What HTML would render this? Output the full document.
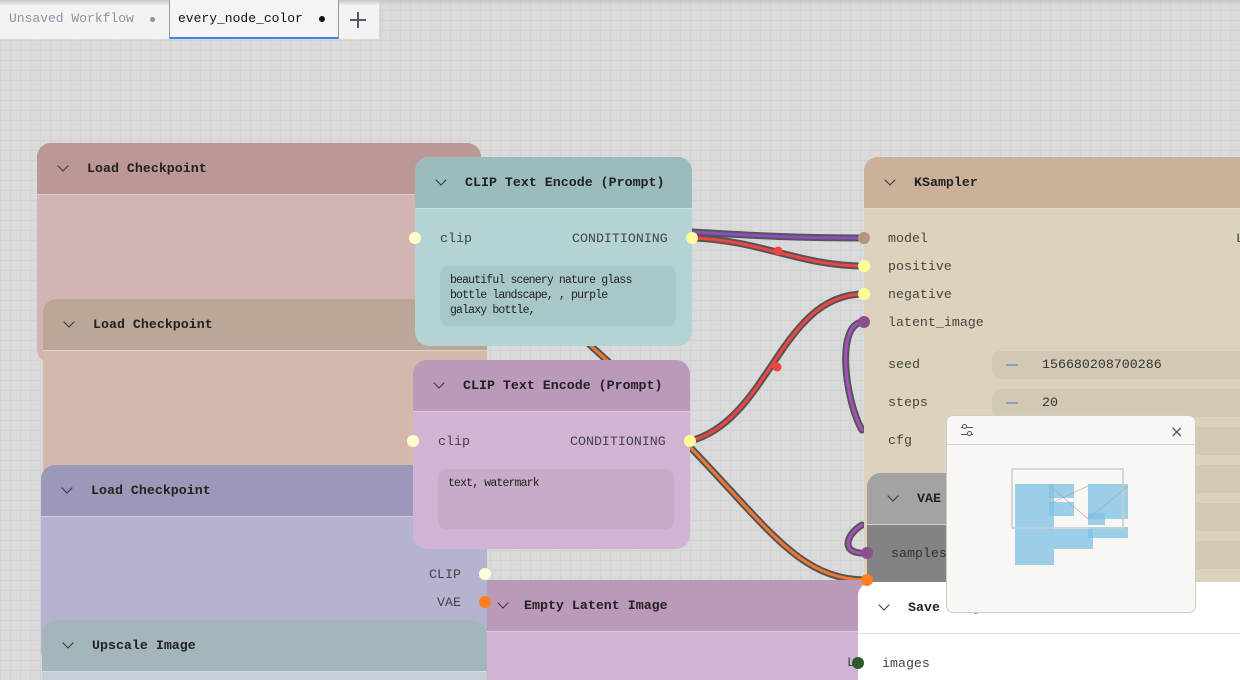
<!DOCTYPE html>
<html style="width:1240px;height:680px;overflow:hidden"><head><meta charset="utf-8"><style>
*{box-sizing:border-box;margin:0;padding:0}
body{width:1240px;height:680px;overflow:hidden;position:relative;font-family:"Liberation Mono","DejaVu Sans Mono",monospace;background:#dadada;
background-image:linear-gradient(#d2d2d2 1px,transparent 1px),linear-gradient(90deg,#d2d2d2 1px,transparent 1px);background-size:10px 10px;}
.n{position:absolute;border-radius:14px;overflow:hidden}
.h{position:absolute;left:0;right:0;top:0;height:52px;border-bottom:1px solid rgba(255,255,255,.5)}
.h .t{position:absolute;left:50px;top:18px;font-size:13.3px;font-weight:bold;color:#222}
.h .c{position:absolute;left:22px;top:19px;width:8px;height:8px;border-right:1.6px solid #333;border-bottom:1.6px solid #333;transform:rotate(45deg)}
.l{position:absolute;font-size:13.3px;color:#444}
.d{position:absolute;width:12px;height:12px;border-radius:50%;margin:-6px 0 0 -6px;z-index:50}
.ta{position:absolute;border-radius:8px;font-size:11.5px;letter-spacing:-0.85px;white-space:nowrap;color:#222;padding:7px 10px;line-height:15px}
.w{position:absolute;left:128px;right:-10px;height:28px;border-radius:8px;background:#d3c8b3}
.w .m{position:absolute;left:14px;top:13px;width:12px;height:1.5px;background:#8aa0c0}
.w span{position:absolute;left:50px;top:6px;font-size:13.3px;color:#333}
</style></head><body>
<!-- tabs -->
<div style="position:absolute;left:0;top:0;width:379px;height:39px;background:#f3f3f3"></div>
<div style="position:absolute;left:0;top:0;width:1240px;height:6px;background:linear-gradient(#c8c8c8,rgba(0,0,0,0))"></div>
<div style="position:absolute;left:9px;top:11px;font-size:13px;color:#8a94a3">Unsaved Workflow</div>
<div style="position:absolute;left:150px;top:17px;width:5px;height:5px;border-radius:50%;background:#8a94a3"></div>
<div style="position:absolute;left:169px;top:0;width:170px;height:39px;border:1px solid #999;border-top:none;border-bottom:2px solid #3b82f6;background:#f4f4f4"></div>
<div style="position:absolute;left:178px;top:11px;font-size:13px;color:#111">every_node_color</div>
<div style="position:absolute;left:319px;top:16px;width:6px;height:6px;border-radius:50%;background:#111"></div>
<div style="position:absolute;left:350px;top:19px;width:16px;height:1.5px;background:#556"></div>
<div style="position:absolute;left:357px;top:12px;width:1.5px;height:16px;background:#556"></div>

<!-- links -->
<svg width="1240" height="680" style="position:absolute;left:0;top:0">
<g fill="none" stroke-linecap="round">
<path d="M590 345 L612 365" stroke="#555" stroke-width="7"/><path d="M590 345 L612 365" stroke="#f07830" stroke-width="3"/>
<path d="M692 232 C760 236 800 238 864 238" stroke="#555" stroke-width="7"/><path d="M692 232 C760 236 800 238 864 238" stroke="#8a4fbf" stroke-width="3"/>
<path d="M692 238 C760 240 800 266 864 266" stroke="#555" stroke-width="7"/><path d="M692 238 C760 240 800 266 864 266" stroke="#ee4444" stroke-width="3"/>
<path d="M690 441 C770 420 780 294 864 294" stroke="#555" stroke-width="7"/><path d="M690 441 C770 420 780 294 864 294" stroke="#ee4444" stroke-width="3"/>
<path d="M690 447 C770 530 800 580 867 580" stroke="#555" stroke-width="7"/><path d="M690 447 C770 530 800 580 867 580" stroke="#f07830" stroke-width="3"/>
<path d="M864 322 C835 322 845 400 862 430" stroke="#555" stroke-width="7"/><path d="M864 322 C835 322 845 400 862 430" stroke="#a64fbf" stroke-width="3"/>
<path d="M867 553 C840 555 845 535 862 525" stroke="#555" stroke-width="7"/><path d="M867 553 C840 555 845 535 862 525" stroke="#a64fbf" stroke-width="3"/>
</g>
<circle cx="778" cy="251" r="4.5" fill="#ee4444"/><circle cx="777" cy="367" r="4.5" fill="#ee4444"/>
</svg>

<!-- Load Checkpoint 1 -->
<div class="n" style="left:37px;top:143px;width:444px;height:220px;background:#d2b4b4"><div class="h" style="background:#bb9795"><div class="c"></div><div class="t">Load Checkpoint</div></div></div>
<!-- Load Checkpoint 2 -->
<div class="n" style="left:43px;top:299px;width:444px;height:200px;background:#d5b8ad"><div class="h" style="background:#baa797"><div class="c"></div><div class="t">Load Checkpoint</div></div></div>
<!-- Load Checkpoint 3 -->
<div class="n" style="left:41px;top:465px;width:446px;height:200px;background:#b4b4d0"><div class="h" style="background:#9a99b9"><div class="c"></div><div class="t">Load Checkpoint</div></div>
<div class="l" style="left:388px;top:102px">CLIP</div><div class="l" style="left:396px;top:130px">VAE</div></div>
<div class="d" style="left:485px;top:574px;background:#ffffdd"></div>
<div class="d" style="left:485px;top:602px;background:#ff7f1e"></div>
<!-- Upscale -->
<div class="n" style="left:42px;top:620px;width:445px;height:60px;background:#c4d0d5;border-radius:14px 14px 0 0"><div class="h" style="background:#a4b6bb"><div class="c"></div><div class="t">Upscale Image</div></div></div>
<!-- Empty Latent -->
<div class="n" style="left:487px;top:580px;width:383px;height:100px;background:#d3b3d3;border-radius:0"><div class="h" style="background:#bb99b8"><div class="c" style="left:12px"></div><div class="t" style="left:37px">Empty Latent Image</div></div>
<div class="l" style="left:360px;top:75px">L</div></div>

<!-- CLIP 1 -->
<div class="n" style="left:415px;top:157px;width:277px;height:189px;background:#b4d3d3"><div class="h" style="background:#9bbcbc"><div class="c"></div><div class="t">CLIP Text Encode (Prompt)</div></div>
<div class="l" style="left:25px;top:74px">clip</div><div class="l" style="left:157px;top:74px">CONDITIONING</div>
<div class="ta" style="left:25px;top:109px;width:236px;height:60px;background:#a8c7c7">beautiful scenery nature glass<br>bottle landscape, , purple<br>galaxy bottle,</div></div>
<div class="d" style="left:415px;top:238px;background:#ffffcc"></div>
<div class="d" style="left:692px;top:238px;background:#ffff99"></div>
<!-- CLIP 2 -->
<div class="n" style="left:413px;top:360px;width:277px;height:189px;background:#d3b3d3"><div class="h" style="background:#bb99b8"><div class="c"></div><div class="t">CLIP Text Encode (Prompt)</div></div>
<div class="l" style="left:25px;top:74px">clip</div><div class="l" style="left:157px;top:74px">CONDITIONING</div>
<div class="ta" style="left:25px;top:109px;width:236px;height:60px;background:#c7abc7">text, watermark</div></div>
<div class="d" style="left:413px;top:441px;background:#ffffcc"></div>
<div class="d" style="left:690px;top:441px;background:#ffff99"></div>

<!-- KSampler -->
<div class="n" style="left:864px;top:157px;width:400px;height:430px;background:#ddd3bc"><div class="h" style="background:#cbb09a"><div class="c"></div><div class="t">KSampler</div></div>
<div class="l" style="left:24px;top:74px">model</div><div class="l" style="left:24px;top:102px">positive</div><div class="l" style="left:24px;top:130px">negative</div><div class="l" style="left:24px;top:158px">latent_image</div>
<div class="l" style="left:372px;top:74px">L</div>
<div class="l" style="left:24px;top:200px">seed</div><div class="l" style="left:24px;top:238px">steps</div><div class="l" style="left:24px;top:276px">cfg</div>
<div class="w" style="top:194px"><div class="m"></div><span>156680208700286</span></div>
<div class="w" style="top:232px"><div class="m"></div><span>20</span></div>
<div class="w" style="top:270px"></div><div class="w" style="top:308px"></div><div class="w" style="top:346px"></div><div class="w" style="top:384px"></div></div>
<div class="d" style="left:864px;top:238px;background:#b39480"></div>
<div class="d" style="left:864px;top:266px;background:#ffff99"></div>
<div class="d" style="left:864px;top:294px;background:#ffff99"></div>
<div class="d" style="left:864px;top:322px;background:#8c4f8c"></div>

<!-- VAE Decode -->
<div class="n" style="left:867px;top:473px;width:200px;height:140px;background:#838383"><div class="h" style="background:#a3a3a3"><div class="c"></div><div class="t">VAE Decode</div></div>
<div class="l" style="left:24px;top:73px;color:#333">samples</div></div>
<div class="d" style="left:867px;top:553px;background:#8c4f8c"></div>
<div class="d" style="left:867px;top:580px;background:#ff7f1e"></div>

<!-- Save Image -->
<div class="n" style="left:858px;top:582px;width:382px;height:98px;background:#fff;border-radius:14px 0 0 0"><div class="h" style="background:#fff;border-bottom:1px solid #ddd"><div class="c" style="left:22px"></div><div class="t">Save Image</div></div>
<div class="l" style="left:24px;top:74px">images</div></div>
<div class="d" style="left:858px;top:663px;background:#2d5a2d"></div>

<!-- minimap -->
<div style="position:absolute;left:946px;top:415px;width:250px;height:198px;background:#f8f7f4;border:1px solid #ccc;border-radius:7px;z-index:60">
<div style="position:absolute;left:0;right:0;top:28px;border-top:1px solid #d6d6d6"></div>
<div style="position:absolute;left:14px;top:11px;width:12px;height:1.2px;background:#556"></div><div style="position:absolute;left:15px;top:8px;width:5px;height:5px;border:1.2px solid #556;border-radius:50%;background:#f8f7f4"></div>
<div style="position:absolute;left:14px;top:18px;width:12px;height:1.2px;background:#556"></div><div style="position:absolute;left:20px;top:15px;width:5px;height:5px;border:1.2px solid #556;border-radius:50%;background:#f8f7f4"></div>
<div style="position:absolute;left:223px;top:6px;font-size:16px;color:#556;font-family:'DejaVu Sans',sans-serif">×</div>
<svg width="250" height="198" style="position:absolute;left:0;top:0">
<g fill="#7cc0e6" fill-opacity=".75">
<rect x="68" y="68" width="39" height="15"/><rect x="68" y="83" width="39" height="15"/><rect x="68" y="98" width="39" height="15"/><rect x="68" y="113" width="39" height="18"/>
<rect x="68" y="131" width="39" height="18"/><rect x="102" y="68" width="25" height="14"/><rect x="102" y="86" width="25" height="14"/>
<rect x="107" y="113" width="39" height="20"/><rect x="141" y="68" width="40" height="35"/><rect x="141" y="97" width="17" height="12"/><rect x="141" y="111" width="40" height="11"/>
</g>
<rect x="65" y="53" width="111" height="59" fill="none" stroke="#ccc" stroke-width="1.5"/>
<g stroke="#aaa" stroke-width=".6"><line x1="102" y1="69" x2="141" y2="103"/><line x1="102" y1="88" x2="141" y2="70"/><line x1="141" y1="103" x2="181" y2="70"/></g>
</svg></div>
</body></html>
